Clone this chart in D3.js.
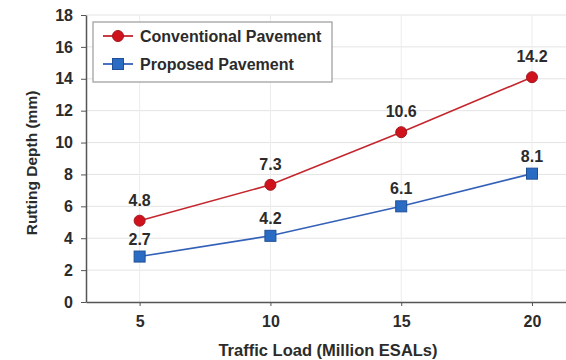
<!DOCTYPE html>
<html>
<head>
  <meta charset="UTF-8">
  <title>Rutting Depth</title>
  <style>
    body { margin: 0; background: #fff; }
    text { font-family: "Liberation Sans", Arial, sans-serif; font-weight: bold; fill: #2b2b2b; }
    .grid line { stroke: #e4e4e4; stroke-width: 1; }
    .axis path, .axis line { stroke: #555; }
  </style>
</head>
<body>
<svg id="chart" width="566" height="360"></svg>

<script src="https://d3js.org/d3.v7.min.js"></script>
<script>
  // data
  var loads = [5, 10, 15, 20]
  var conventional = [5.1, 7.35, 10.65, 14.1]
  var conventionalLabels = ["4.8", "7.3", "10.6", "14.2"]
  var proposed = [2.85, 4.15, 6.0, 8.05]
  var proposedLabels = ["2.7", "4.2", "6.1", "8.1"]
  var yTicks = [0, 2, 4, 6, 8, 10, 12, 14, 16, 18]
  var seriesNames = ["Conventional Pavement", "Proposed Pavement"]

  var svg = d3.select("#chart")

  var x = d3.scaleLinear().domain([2.95, 21.3]).range([86, 566])
  var y = d3.scaleLinear().domain([0, 18]).range([302, 15])

  // horizontal grid
  svg.append("g")
    .attr("class", "grid")
    .selectAll("line")
    .data(yTicks.slice(1))
    .join("line")
    .attr("x1", x.range()[0])
    .attr("x2", x.range()[1])
    .attr("y1", d => y(d))
    .attr("y2", d => y(d))

  // vertical grid at the loads
  svg.append("g")
    .attr("class", "grid")
    .selectAll("line")
    .data(loads)
    .join("line")
    .attr("x1", d => x(d))
    .attr("x2", d => x(d))
    .attr("y1", y(0))
    .attr("y2", y(18))
    .style("stroke", "#ececec")

  // axes
  var xAxis = svg.append("g")
    .attr("class", "axis")
    .attr("transform", "translate(0," + y(0) + ")")
    .call(d3.axisBottom(x).tickValues(loads).tickSize(4).tickSizeOuter(0).tickPadding(10))
  xAxis.select(".domain").attr("stroke-width", 1.5)
  xAxis.selectAll("text").style("font-size", "16px").attr("fill", "#2b2b2b")

  var yAxis = svg.append("g")
    .attr("class", "axis")
    .attr("transform", "translate(" + x.range()[0] + ",0)")
    .call(d3.axisLeft(y).tickValues(yTicks).tickSize(5).tickSizeOuter(0).tickPadding(8))
  yAxis.select(".domain").attr("stroke-width", 1.5)
  yAxis.selectAll("text").style("font-size", "16px").attr("fill", "#2b2b2b")

  // axis titles
  svg.append("text")
    .attr("x", 328)
    .attr("y", 356)
    .attr("text-anchor", "middle")
    .style("font-size", "16.5px")
    .text("Traffic Load (Million ESALs)")

  svg.append("text")
    .attr("transform", "translate(37,163) rotate(-90)")
    .attr("text-anchor", "middle")
    .style("font-size", "15.5px")
    .text("Rutting Depth (mm)")

  var line = d3.line()
    .x((d, i) => x(loads[i]))
    .y(d => y(d))

  // conventional series
  svg.append("path")
    .datum(conventional)
    .attr("d", line)
    .attr("fill", "none")
    .attr("stroke", "#c4262e")
    .attr("stroke-width", 1.6)

  svg.append("g")
    .selectAll("circle")
    .data(conventional)
    .join("circle")
    .attr("cx", (d, i) => x(loads[i]))
    .attr("cy", d => y(d))
    .attr("r", 5.5)
    .attr("fill", "#d0121c")
    .attr("stroke", "#a01820")
    .attr("stroke-width", 1)

  svg.append("g")
    .selectAll("text")
    .data(conventional)
    .join("text")
    .attr("x", (d, i) => x(loads[i]))
    .attr("y", d => y(d) - 15)
    .attr("text-anchor", "middle")
    .style("font-size", "16px")
    .text((d, i) => conventionalLabels[i])

  // proposed series
  svg.append("path")
    .datum(proposed)
    .attr("d", line)
    .attr("fill", "none")
    .attr("stroke", "#3461b8")
    .attr("stroke-width", 1.6)

  svg.append("g")
    .selectAll("rect")
    .data(proposed)
    .join("rect")
    .attr("x", (d, i) => x(loads[i]) - 5.5)
    .attr("y", d => y(d) - 5.5)
    .attr("width", 11)
    .attr("height", 11)
    .attr("fill", "#2a6cc4")
    .attr("stroke", "#1f4f96")
    .attr("stroke-width", 1)

  svg.append("g")
    .selectAll("text")
    .data(proposed)
    .join("text")
    .attr("x", (d, i) => x(loads[i]))
    .attr("y", d => y(d) - 12)
    .attr("text-anchor", "middle")
    .style("font-size", "16px")
    .text((d, i) => proposedLabels[i])

  // legend
  var legend = svg.append("g").attr("transform", "translate(93,22)")
  legend.append("rect")
    .attr("width", 239)
    .attr("height", 60)
    .attr("fill", "#fff")
    .attr("stroke", "#9a9a9a")
    .attr("stroke-width", 1.2)

  var colors = ["#c4262e", "#3461b8"]
  var rows = legend.selectAll("g.row")
    .data(seriesNames)
    .join("g")
    .attr("class", "row")
    .attr("transform", (d, i) => "translate(0," + (14 + i * 28) + ")")

  rows.append("line")
    .attr("x1", 10).attr("x2", 40)
    .attr("stroke", (d, i) => colors[i])
    .attr("stroke-width", 1.8)
  rows.filter((d, i) => i === 0).append("circle")
    .attr("cx", 25).attr("r", 5.5)
    .attr("fill", "#d0121c").attr("stroke", "#a01820")
  rows.filter((d, i) => i === 1).append("rect")
    .attr("x", 19.5).attr("y", -5.5).attr("width", 11).attr("height", 11)
    .attr("fill", "#2a6cc4").attr("stroke", "#1f4f96")
  rows.append("text")
    .attr("x", 47)
    .attr("dy", "0.35em")
    .style("font-size", "16px")
    .text(d => d)
</script>
</body>
</html>
